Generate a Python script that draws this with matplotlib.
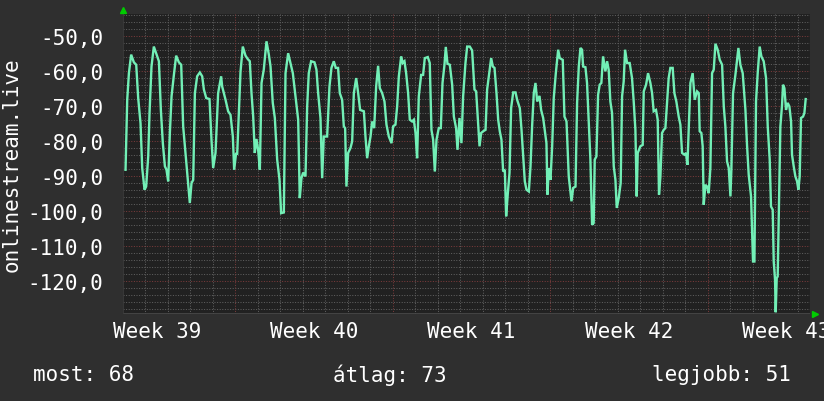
import matplotlib
matplotlib.use("Agg")
import matplotlib.pyplot as plt
from matplotlib.ticker import FixedLocator

# ---- data (hours from start of the chart, signal in dB) ----
hours = [
    2.7, 4.5, 6.3, 8.7, 11.6, 14.1, 16.2, 18.7, 20.5, 23.0, 24.7, 26.9, 28.3, 30.4, 32.9, 35.8, 38.3,
    40.4, 42.5, 44.7, 46.4, 48.2, 50.0, 51.8, 54.3, 56.7, 59.6, 62.1, 64.2, 66.7, 69.2, 71.3, 73.1,
    74.9, 76.7, 79.1, 82.0, 84.5, 86.3, 88.8, 92.3, 94.4, 96.2, 98.7, 101.5, 104.7, 105.8, 109.4,
    112.2, 114.7, 117.2, 118.6, 120.7,
    121.8, 125.4, 127.8, 130.7, 133.2, 135.3, 137.1, 138.9, 140.6, 142.4, 144.2, 146.0, 147.8, 150.2,
    153.1, 155.6, 157.4, 159.8, 162.0, 164.5, 167.0, 168.7, 171.6, 173.4, 176.2, 178.7, 181.2, 184.0,
    186.9, 188.6, 190.4, 192.2, 194.7, 196.5, 198.2, 200.7, 204.3, 206.4, 208.2, 210.7, 212.5, 214.2,
    217.8, 220.3, 222.4, 224.9, 227.0, 229.5, 231.3, 233.8, 235.6, 237.0, 238.4, 240.2, 242.7,
    244.5, 246.3, 248.8, 250.9, 253.0, 257.0, 258.7, 260.5, 262.3, 264.1, 265.8, 268.0, 270.1, 272.2,
    274.0, 276.5, 279.0, 281.1, 283.6, 286.5, 288.2, 290.7, 292.5, 294.3, 296.8, 298.5, 300.3, 302.1,
    304.2, 306.0, 308.5, 310.3, 312.1, 313.8, 315.6, 318.1, 320.2, 322.0, 325.2, 327.3, 329.1, 330.9,
    332.7, 334.5, 336.9, 339.1, 340.9, 343.0, 344.4, 346.2, 348.7, 351.2, 353.0, 355.4, 356.9, 359.0,
    361.1, 362.9, 365.4,
    367.2, 370.0, 372.5, 375.0, 376.8, 378.6, 380.4, 382.1, 384.3, 386.8, 388.5, 390.7, 392.8, 394.6,
    396.4, 398.5, 400.3, 402.0, 403.8, 405.6, 407.4, 408.8, 410.6, 412.4, 414.1, 416.3, 418.8, 420.5,
    423.4, 425.2, 426.9, 428.7, 430.5, 433.0, 434.8, 436.5, 438.3, 440.1, 441.9, 444.4, 446.1, 448.3,
    450.0, 451.8, 452.9, 454.3, 456.1, 457.9, 459.6, 461.8, 464.3, 466.0, 469.2, 471.0, 473.2, 475.6,
    478.5, 480.3, 482.8, 484.5, 486.3, 488.1,
    489.8, 490.9, 493.4, 495.1, 496.9, 498.7, 500.5, 502.2, 503.3, 505.1, 506.9, 508.6, 510.4, 512.2,
    514.7, 516.5, 518.2, 520.0, 521.8, 523.6, 525.4, 526.8, 528.9, 531.0, 532.5, 534.2, 535.7, 537.8,
    540.6, 543.1, 544.9, 546.7, 548.1, 549.2, 552.0, 554.5, 555.6, 558.1, 560.2, 562.7, 564.5, 566.2,
    568.7, 570.5, 571.9, 573.4, 575.1, 576.9, 578.7, 580.5, 582.2, 584.0, 586.5, 588.3, 590.4, 592.9,
    594.7, 596.5, 599.0, 600.7, 602.2, 603.6, 605.4, 607.8, 610.0,
    612.5, 614.3, 615.3, 617.1, 618.5, 619.6, 621.4, 623.2, 624.9, 626.7, 628.5, 630.3, 632.1, 634.5,
    636.7, 639.2, 641.0, 642.7, 644.5, 646.3, 648.1, 649.1, 650.9, 653.4, 655.2, 656.6, 658.7, 661.2,
    664.1, 665.8, 667.6, 670.1, 672.2, 673.7, 675.4, 677.2, 679.3, 681.1, 683.6, 686.1, 687.9, 690.0,
    691.4, 693.2, 694.3, 695.7, 696.4, 697.5, 698.5, 700.0, 701.4, 703.2, 704.2, 705.7, 707.4, 709.2,
    711.0, 712.8, 713.8, 715.6, 717.4, 719.2, 720.6, 722.0, 723.4, 725.6, 727.0, 728.4,
]
signal = [
    -88.1, -68.1, -60.5, -55.2, -57.4, -58.1, -67.6, -74.8, -87.6, -93.8, -92.9, -84.3, -71.9, -58.6, -52.9, -55.2, -57.1,
    -71.0, -80.5, -87.1, -88.1, -91.4, -77.6, -67.1, -61.0, -55.5, -57.4, -58.1, -75.7, -83.3, -91.0, -97.6, -91.9,
    -91.0, -66.2, -61.4, -60.3, -61.4, -65.2, -67.6, -67.9, -79.5, -87.6, -83.3, -66.2, -61.4, -64.3, -68.1,
    -71.4, -72.4, -78.6, -88.1, -83.3,
    -83.8, -60.0, -52.9, -55.5, -56.5, -57.1, -66.2, -72.9, -83.3, -79.3, -82.4, -88.1, -63.3, -59.5,
    -51.4, -55.2, -58.6, -69.0, -73.3, -85.2, -91.0, -100.5, -100.3, -60.5, -54.8, -57.6, -60.5, -67.1,
    -73.8, -96.2, -90.5, -88.9, -90.0, -70.0, -60.5, -57.1, -57.4, -59.5, -66.2, -73.3, -90.5, -78.6,
    -78.6, -64.3, -59.0, -57.1, -59.0, -59.0, -66.2, -68.1, -75.7, -76.2, -92.9, -83.3, -81.9,
    -80.0, -66.2, -61.9, -66.2, -71.0, -71.4, -78.6, -84.8, -81.4, -78.6, -74.3, -76.2, -64.3, -58.4,
    -64.8, -66.2, -68.6, -75.2, -78.6, -80.5, -75.7, -75.2, -70.0, -61.4, -55.7, -57.6, -57.1, -60.5,
    -66.2, -73.8, -74.3, -73.8, -77.6, -84.8, -67.1, -61.0, -61.0, -56.2, -55.9, -57.6, -76.7, -79.5,
    -88.6, -79.5, -76.2, -76.2, -63.3, -58.1, -53.0, -57.8, -58.1, -63.8, -72.9, -76.2, -82.4, -73.3,
    -80.5, -67.1, -57.6,
    -52.9, -52.9, -54.0, -65.2, -65.7, -73.8, -81.4, -77.6, -77.1, -76.7, -65.2, -60.5, -56.2, -58.6,
    -59.0, -66.2, -73.8, -77.1, -79.5, -88.6, -88.1, -101.4, -94.8, -89.0, -70.5, -66.0, -66.0, -68.1,
    -70.5, -76.7, -83.8, -91.4, -93.8, -94.3, -87.1, -75.7, -66.2, -63.3, -68.6, -67.0, -71.0, -73.3,
    -76.7, -80.5, -95.2, -87.6, -91.0, -81.4, -67.6, -60.5, -53.8, -56.2, -56.7, -72.9, -74.3, -90.0,
    -97.1, -93.3, -92.9, -69.0, -58.6, -53.3,
    -53.8, -58.6, -58.8, -63.3, -74.3, -85.2, -103.8, -103.3, -85.2, -84.3, -66.7, -63.8, -63.3, -55.7,
    -60.0, -57.1, -59.5, -68.6, -71.9, -87.1, -91.0, -99.0, -96.2, -91.9, -67.1, -62.9, -53.8, -57.6,
    -57.6, -61.9, -68.6, -76.7, -95.7, -83.3, -81.4, -81.0, -65.7, -63.8, -60.5, -63.3, -66.2, -71.4,
    -71.0, -73.8, -95.2, -90.0, -77.6, -76.7, -76.2, -69.0, -61.9, -59.0, -59.0, -66.2, -68.6, -72.9,
    -75.2, -83.3, -83.8, -83.3, -86.7, -76.7, -63.3, -60.5, -68.1,
    -65.7, -66.2, -77.1, -77.6, -81.4, -98.1, -92.4, -92.9, -94.8, -87.6, -60.5, -59.5, -52.1, -53.8,
    -56.7, -58.1, -70.0, -75.7, -85.7, -87.6, -95.7, -88.1, -66.2, -61.0, -56.7, -53.3, -58.1, -60.5,
    -71.0, -81.0, -89.5, -95.7, -114.3, -114.3, -68.6, -60.5, -52.9, -55.7, -57.1, -61.9, -75.7, -85.2,
    -98.6, -99.5, -114.3, -119.5, -128.8, -119.0, -118.6, -96.2, -75.7, -69.5, -63.8, -64.8, -71.0, -69.0,
    -70.0, -74.3, -83.8, -87.1, -90.0, -91.4, -93.8, -90.0, -73.3, -72.9, -71.9, -67.9,
]

y_ticks = [-50, -60, -70, -80, -90, -100, -110, -120]
y_tick_labels = ["-50,0", "-60,0", "-70,0", "-80,0", "-90,0", "-100,0", "-110,0", "-120,0"]
week_label_hours = [36, 204, 372, 540, 708]
week_labels = ["Week 39", "Week 40", "Week 41", "Week 42", "Week 43"]
week_boundaries = [120, 288, 456, 624]
y_axis_title = "onlinestream.live"
summary = ["most: 68", "átlag: 73", "legjobb: 51"]

# ---- styling ----
BG = "#2f2f2f"
PLOT_BG = "#212121"
MINOR = "#606060"
MAJOR = "#7c3b3b"
LINE = "#72efb6"
TXT = "#ffffff"
FONT = "DejaVu Sans Mono"
DOTS = (0, (1, 1.6))

fig = plt.figure(figsize=(8.24, 4.02), dpi=100, facecolor=BG)
W, H = 824, 402
ax = fig.add_axes([123 / W, (H - 315) / H, 687 / W, 300 / H])
ax.set_facecolor(PLOT_BG)

xmin, xmax = 0, 733
ymin, ymax = -129.3, -43.6
ax.set_xlim(xmin, xmax)
ax.set_ylim(ymin, ymax)

# minor grid
for yv in range(-128, -43, 2):
    if yv not in y_ticks:
        ax.axhline(yv, color=MINOR, lw=0.72, ls=DOTS, zorder=1)
for d in range(24, 733, 24):
    if d not in week_boundaries:
        ax.axvline(d, color=MINOR, lw=0.72, ls=DOTS, zorder=1)
# major grid
for yv in y_ticks:
    ax.axhline(yv, color=MAJOR, lw=0.72, ls=DOTS, zorder=1.5)
for d in week_boundaries:
    ax.axvline(d, color=MAJOR, lw=0.72, ls=DOTS, zorder=1.5)

ax.plot(hours, signal, color=LINE, lw=1.7, zorder=3, solid_joinstyle="miter")

for s in ax.spines.values():
    s.set_visible(False)
ax.axhline(ymin, color="#4a4a4a", lw=1.2, zorder=2)
ax.axvline(xmin, color="#3c3c3c", lw=1.2, zorder=2)

ax.yaxis.set_major_locator(FixedLocator(y_ticks))
ax.set_yticklabels(y_tick_labels)
ax.xaxis.set_major_locator(FixedLocator(week_label_hours))
ax.set_xticklabels(week_labels)
ax.tick_params(axis="both", length=0, colors=TXT, labelsize=15)
ax.tick_params(axis="y", pad=14)
ax.tick_params(axis="x", pad=5)
for lab in ax.get_xticklabels() + ax.get_yticklabels():
    lab.set_fontfamily(FONT)

# arrows
ax.plot([xmin], [ymax + 1.0], marker="^", color="#00cc00", ms=5, clip_on=False, zorder=5)
ax.plot([xmax + 5], [ymin], marker=">", color="#00cc00", ms=5, clip_on=False, zorder=5)

fig.text(12 / W, 1 - 165 / H, y_axis_title, rotation=90, color=TXT, fontsize=15,
         family=FONT, ha="center", va="center")
fig.text(33 / W, 1 - 375 / H, summary[0], color=TXT, fontsize=15, family=FONT, ha="left", va="center")
fig.text(333 / W, 1 - 375 / H, summary[1], color=TXT, fontsize=15, family=FONT, ha="left", va="center")
fig.text(791 / W, 1 - 375 / H, summary[2], color=TXT, fontsize=15, family=FONT, ha="right", va="center")

fig.savefig("out.png", dpi=100, facecolor=BG)
